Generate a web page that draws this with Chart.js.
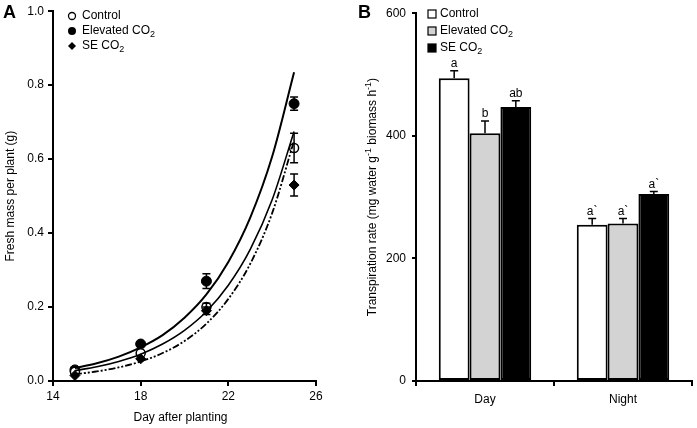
<!DOCTYPE html>
<html><head><meta charset="utf-8">
<script src="https://cdn.jsdelivr.net/npm/chart.js@4.4.1/dist/chart.umd.min.js"></script>
<style>
html,body{margin:0;padding:0;background:#fff;}
#wrap{position:relative;width:697px;height:428px;overflow:hidden;}
#a{position:absolute;left:0;top:0;}
#b{position:absolute;left:350px;top:0;}
</style></head>
<body><div id="wrap"><canvas id="a" width="350" height="428"></canvas><canvas id="b" width="347" height="428"></canvas></div>
<script>
// ---- Panel A data ----
const days = [15, 18, 21, 25];
const controlMass = [0.025, 0.075, 0.20, 0.63];
const controlErr = [0.004, 0.006, 0.010, 0.040];
const elevatedMass = [0.03, 0.10, 0.27, 0.75];
const elevatedErr = [0.004, 0.006, 0.020, 0.018];
const seMass = [0.015, 0.06, 0.19, 0.53];
const seErr = [0.003, 0.005, 0.010, 0.030];
const curveDays = [15, 16, 17, 18, 19, 20, 21, 22, 23, 24, 25];
const elevatedFit = [0.035, 0.048, 0.066, 0.091, 0.124, 0.171, 0.234, 0.322, 0.442, 0.607, 0.835];
const controlFit = [0.028, 0.0385, 0.053, 0.0725, 0.100, 0.137, 0.188, 0.259, 0.356, 0.49, 0.675];
const seFit = [0.018, 0.0258, 0.0369, 0.0528, 0.0756, 0.108, 0.155, 0.222, 0.317, 0.454, 0.65];
const xTicksA = [14, 18, 22, 26];
const yTicksA = [0, 0.2, 0.4, 0.6, 0.8, 1.0];

// ---- Panel B data ----
const periods = ['Day', 'Night'];
const controlRate = [494, 255];
const controlRateErr = [12, 10];
const elevatedRate = [404, 257];
const elevatedRateErr = [20, 8];
const seRate = [447, 305];
const seRateErr = [10, 4];
const controlLetters = ['a', 'a`'];
const elevatedLetters = ['b', 'a`'];
const seLetters = ['ab', 'a`'];

const FONT = '"Liberation Sans", Arial, sans-serif';
const FS = 12;

function toPts(xs, ys) { return xs.map((x, i) => ({x: x, y: ys[i]})); }

// draw text with sub/superscripts; parts: [text, mode(0 normal, -1 sub, 1 sup)]
function richWidth(ctx, parts, size) {
  let w = 0;
  parts.forEach(p => { ctx.font = (p[1] ? size * 0.75 : size) + 'px ' + FONT; w += ctx.measureText(p[0]).width; });
  return w;
}
function drawRich(ctx, parts, x, y, size, align) {
  let w = richWidth(ctx, parts, size);
  let cx = align === 'center' ? x - w / 2 : x;
  ctx.textBaseline = 'middle';
  ctx.textAlign = 'left';
  parts.forEach(p => {
    const s = p[1] ? size * 0.75 : size;
    ctx.font = s + 'px ' + FONT;
    const dy = p[1] === -1 ? size * 0.3 : (p[1] === 1 ? -size * 0.35 : 0);
    ctx.fillText(p[0], cx, y + dy);
    cx += ctx.measureText(p[0]).width;
  });
}

const axisCommon = {
  border: {display: true, color: '#000', width: 2},
  grid: {display: true, drawOnChartArea: false, drawTicks: true, color: '#000', lineWidth: 2, tickLength: 5},
};

// ---------- Panel A ----------
const pluginA = {
  id: 'annA',
  afterDatasetsDraw(chart) {
    const ctx = chart.ctx, xs = chart.scales.x, ys = chart.scales.y;
    ctx.save();
    ctx.strokeStyle = '#000';
    ctx.lineWidth = 1.5;
    const sets = [[controlMass, controlErr], [elevatedMass, elevatedErr], [seMass, seErr]];
    sets.forEach(([m, e]) => {
      days.forEach((d, i) => {
        if (e[i] < 0.008) return;
        const px = xs.getPixelForValue(d);
        const y1 = ys.getPixelForValue(m[i] + e[i]);
        const y2 = ys.getPixelForValue(m[i] - e[i]);
        ctx.beginPath();
        ctx.moveTo(px, y1); ctx.lineTo(px, y2);
        ctx.moveTo(px - 4, y1); ctx.lineTo(px + 4, y1);
        ctx.moveTo(px - 4, y2); ctx.lineTo(px + 4, y2);
        ctx.stroke();
      });
    });
    ctx.restore();
  },
  afterDraw(chart) {
    const ctx = chart.ctx, ca = chart.chartArea;
    ctx.save();
    ctx.fillStyle = '#000';
    ctx.font = 'bold 18px ' + FONT;
    ctx.textBaseline = 'middle'; ctx.textAlign = 'left';
    ctx.fillText('A', 3, 13);
    // legend
    const lx = 72, rows = [16, 31, 46];
    ctx.lineWidth = 1.3; ctx.strokeStyle = '#000';
    ctx.beginPath(); ctx.arc(lx, rows[0], 3.5, 0, Math.PI * 2); ctx.fillStyle = '#fff'; ctx.fill(); ctx.stroke();
    ctx.fillStyle = '#000';
    ctx.beginPath(); ctx.arc(lx, rows[1], 4, 0, Math.PI * 2); ctx.fill();
    ctx.beginPath(); ctx.moveTo(lx, rows[2] - 4); ctx.lineTo(lx + 4, rows[2]); ctx.lineTo(lx, rows[2] + 4); ctx.lineTo(lx - 4, rows[2]); ctx.closePath(); ctx.fill();
    drawRich(ctx, [['Control', 0]], 82, rows[0], FS, 'left');
    drawRich(ctx, [['Elevated CO', 0], ['2', -1]], 82, rows[1], FS, 'left');
    drawRich(ctx, [['SE CO', 0], ['2', -1]], 82, rows[2], FS, 'left');
    // axis titles
    drawRich(ctx, [['Day after planting', 0]], (ca.left + ca.right) / 2 - 4, 418, FS, 'center');
    ctx.translate(11, (ca.top + ca.bottom) / 2);
    ctx.rotate(-Math.PI / 2);
    drawRich(ctx, [['Fresh mass per plant (g)', 0]], 0, 0, FS, 'center');
    ctx.restore();
  }
};

new Chart(document.getElementById('a'), {
  type: 'scatter',
  data: {
    datasets: [
      {label: 'Elevated CO2 fit', data: toPts(curveDays, elevatedFit), showLine: true, pointRadius: 0, borderColor: '#000', borderWidth: 2, cubicInterpolationMode: 'monotone', fill: false},
      {label: 'Control fit', data: toPts(curveDays, controlFit), showLine: true, pointRadius: 0, borderColor: '#000', borderWidth: 1.6, cubicInterpolationMode: 'monotone', fill: false},
      {label: 'SE CO2 fit', data: toPts(curveDays, seFit), showLine: true, pointRadius: 0, borderColor: '#000', borderWidth: 1.8, borderDash: [7, 2, 2, 2, 2, 2], cubicInterpolationMode: 'monotone', fill: false},
      {label: 'SE CO2', data: toPts(days, seMass), pointStyle: 'rectRot', pointRadius: 5, backgroundColor: '#000', borderColor: '#000', borderWidth: 1},
      {label: 'Control', data: toPts(days, controlMass), pointStyle: 'circle', pointRadius: 4.5, backgroundColor: '#fff', borderColor: '#000', borderWidth: 1.5},
      {label: 'Elevated CO2', data: toPts(days, elevatedMass), pointStyle: 'circle', pointRadius: 5, backgroundColor: '#000', borderColor: '#000', borderWidth: 1},
    ]
  },
  options: {
    responsive: false, animation: false,
    layout: {padding: {top: 11, right: 34, left: 0, bottom: 0}},
    plugins: {legend: {display: false}, tooltip: {enabled: false}},
    scales: {
      x: Object.assign({}, axisCommon, {
        type: 'linear', min: 14, max: 26,
        afterFit: s => { s.height = 47; },
        afterBuildTicks: s => { s.ticks = xTicksA.map(v => ({value: v})); },
        ticks: {color: '#000', font: {family: FONT, size: FS}, padding: 3, maxRotation: 0},
      }),
      y: Object.assign({}, axisCommon, {
        min: 0, max: 1.0,
        afterFit: s => { s.width = 53; },
        afterBuildTicks: s => { s.ticks = yTicksA.map(v => ({value: v})); },
        ticks: {color: '#000', font: {family: FONT, size: FS}, padding: 4, callback: v => v.toFixed(1)},
      }),
    }
  },
  plugins: [pluginA]
});

// ---------- Panel B ----------
const pluginB = {
  id: 'annB',
  afterDatasetsDraw(chart) {
    const ctx = chart.ctx, ys = chart.scales.y;
    const vals = [controlRate, elevatedRate, seRate];
    const errs = [controlRateErr, elevatedRateErr, seRateErr];
    const lets = [controlLetters, elevatedLetters, seLetters];
    ctx.save();
    ctx.strokeStyle = '#000'; ctx.fillStyle = '#000'; ctx.lineWidth = 1.5;
    for (let d = 0; d < 3; d++) {
      const meta = chart.getDatasetMeta(d);
      meta.data.forEach((bar, i) => {
        const top = ys.getPixelForValue(vals[d][i]);
        const et = ys.getPixelForValue(vals[d][i] + errs[d][i]);
        ctx.beginPath();
        ctx.moveTo(bar.x, top); ctx.lineTo(bar.x, et);
        ctx.moveTo(bar.x - 4, et); ctx.lineTo(bar.x + 4, et);
        ctx.stroke();
        ctx.font = FS + 'px ' + FONT; ctx.textAlign = 'center'; ctx.textBaseline = 'alphabetic';
        ctx.fillText(lets[d][i], bar.x, et - 4);
      });
    }
    ctx.restore();
  },
  afterDraw(chart) {
    const ctx = chart.ctx, ca = chart.chartArea;
    ctx.save();
    ctx.fillStyle = '#000';
    ctx.font = 'bold 18px ' + FONT;
    ctx.textBaseline = 'middle'; ctx.textAlign = 'left';
    ctx.fillText('B', 8, 13);
    // legend
    const bx = 78, rows = [14, 31, 48], fills = ['#fff', '#d3d3d3', '#000'];
    ctx.lineWidth = 1.2; ctx.strokeStyle = '#000';
    rows.forEach((r, i) => { ctx.fillStyle = fills[i]; ctx.fillRect(bx, r - 4, 8, 8); ctx.strokeRect(bx, r - 4, 8, 8); });
    ctx.fillStyle = '#000';
    drawRich(ctx, [['Control', 0]], 90, rows[0], FS, 'left');
    drawRich(ctx, [['Elevated CO', 0], ['2', -1]], 90, rows[1], FS, 'left');
    drawRich(ctx, [['SE CO', 0], ['2', -1]], 90, rows[2], FS, 'left');
    ctx.translate(23, (ca.top + ca.bottom) / 2);
    ctx.rotate(-Math.PI / 2);
    drawRich(ctx, [['Transpiration rate (mg water g', 0], ['-1', 1], [' biomass h', 0], ['-1', 1], [')', 0]], 0, 0, FS, 'center');
    ctx.restore();
  }
};

new Chart(document.getElementById('b'), {
  type: 'bar',
  data: {
    labels: periods,
    datasets: [
      {label: 'Control', data: controlRate, backgroundColor: '#ffffff', borderColor: '#000', borderWidth: 2, borderSkipped: false},
      {label: 'Elevated CO2', data: elevatedRate, backgroundColor: '#d3d3d3', borderColor: '#000', borderWidth: 2, borderSkipped: false},
      {label: 'SE CO2', data: seRate, backgroundColor: '#000000', borderColor: '#000', borderWidth: 2, borderSkipped: false},
    ]
  },
  options: {
    responsive: false, animation: false,
    layout: {padding: {top: 11, right: 5, left: 0, bottom: 0}},
    plugins: {legend: {display: false}, tooltip: {enabled: false}},
    datasets: {bar: {barPercentage: 1.0, categoryPercentage: 0.67}},
    scales: {
      x: {
        border: {display: true, color: '#000', width: 2},
        grid: {display: true, offset: true, drawOnChartArea: false, drawTicks: true, color: '#000', lineWidth: 2, tickLength: 5},
        afterFit: s => { s.height = 47; },
        ticks: {color: '#000', font: {family: FONT, size: FS}, padding: 6},
      },
      y: {
        border: {display: true, color: '#000', width: 2},
        grid: {display: true, drawOnChartArea: false, drawTicks: true, color: '#000', lineWidth: 2, tickLength: 4},
        min: 0, max: 600,
        afterFit: s => { s.width = 66; },
        ticks: {stepSize: 200, color: '#000', font: {family: FONT, size: FS}, padding: 6},
      }
    }
  },
  plugins: [pluginB]
});
</script></body></html>
